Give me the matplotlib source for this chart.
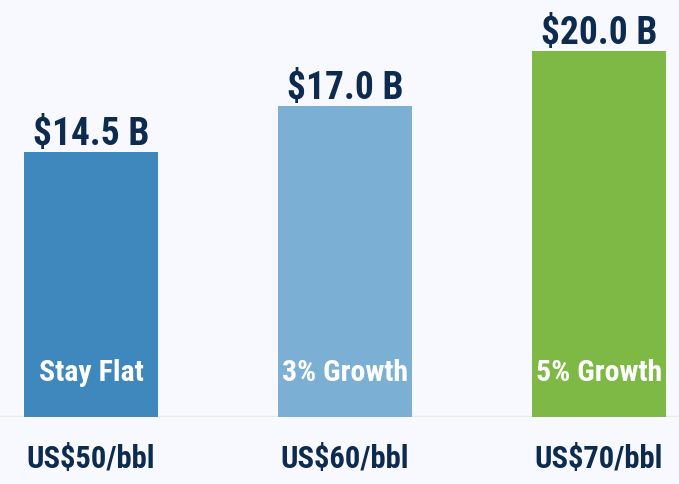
import matplotlib.pyplot as plt
from matplotlib import font_manager

# chart data
prices = ["US$50/bbl", "US$60/bbl", "US$70/bbl"]
scenarios = ["Stay Flat", "3% Growth", "5% Growth"]
values = [14.5, 17.0, 20.0]
colors = ["#3F88BE", "#7BAFD4", "#7DB944"]

# pick a narrow bold face, like the Arial Narrow of the original
bold_fonts = {f.name for f in font_manager.fontManager.ttflist
              if isinstance(f.weight, int) and f.weight >= 700 or f.weight == "bold"}
family = "Liberation Sans"
for cand in ["Liberation Sans Narrow", "Arial Narrow", "Roboto Condensed",
             "Archivo Narrow", "PT Sans Narrow", "Encode Sans Condensed"]:
    if cand in bold_fonts:
        family = cand
        break
plt.rcParams["font.family"] = [family, "DejaVu Sans"]

bg = "#F8F9FE"
navy = "#0D2B4E"

fig = plt.figure(figsize=(6.79, 4.84), dpi=100, facecolor=bg)
ax = fig.add_axes([0, 1 - 417 / 484, 1, 417 / 484], facecolor=bg)

x = range(len(values))
ax.bar(x, values, width=134 / 254, color=colors, zorder=2)

ax.set_xlim(-91 / 254, 2 + 80 / 254)
ax.set_ylim(0, 417 / 18.28)

for i, v in enumerate(values):
    ax.text(i, v + 0.4, f"${v:.1f} B", ha="center", va="baseline",
            fontsize=27, fontweight="bold", color=navy)
    ax.text(i, 36 / 18.28, scenarios[i], ha="center", va="baseline",
            fontsize=21.5, fontweight="bold", color="white")
    ax.text(i, -51 / 18.28, prices[i], ha="center", va="baseline",
            fontsize=22, fontweight="bold", color=navy, clip_on=False)

ax.axhline(0, color="#E2EFD9", linewidth=2.5, zorder=1)

for s in ax.spines.values():
    s.set_visible(False)
ax.set_xticks([])
ax.set_yticks([])

fig.savefig("out.png", dpi=100, facecolor=bg)
